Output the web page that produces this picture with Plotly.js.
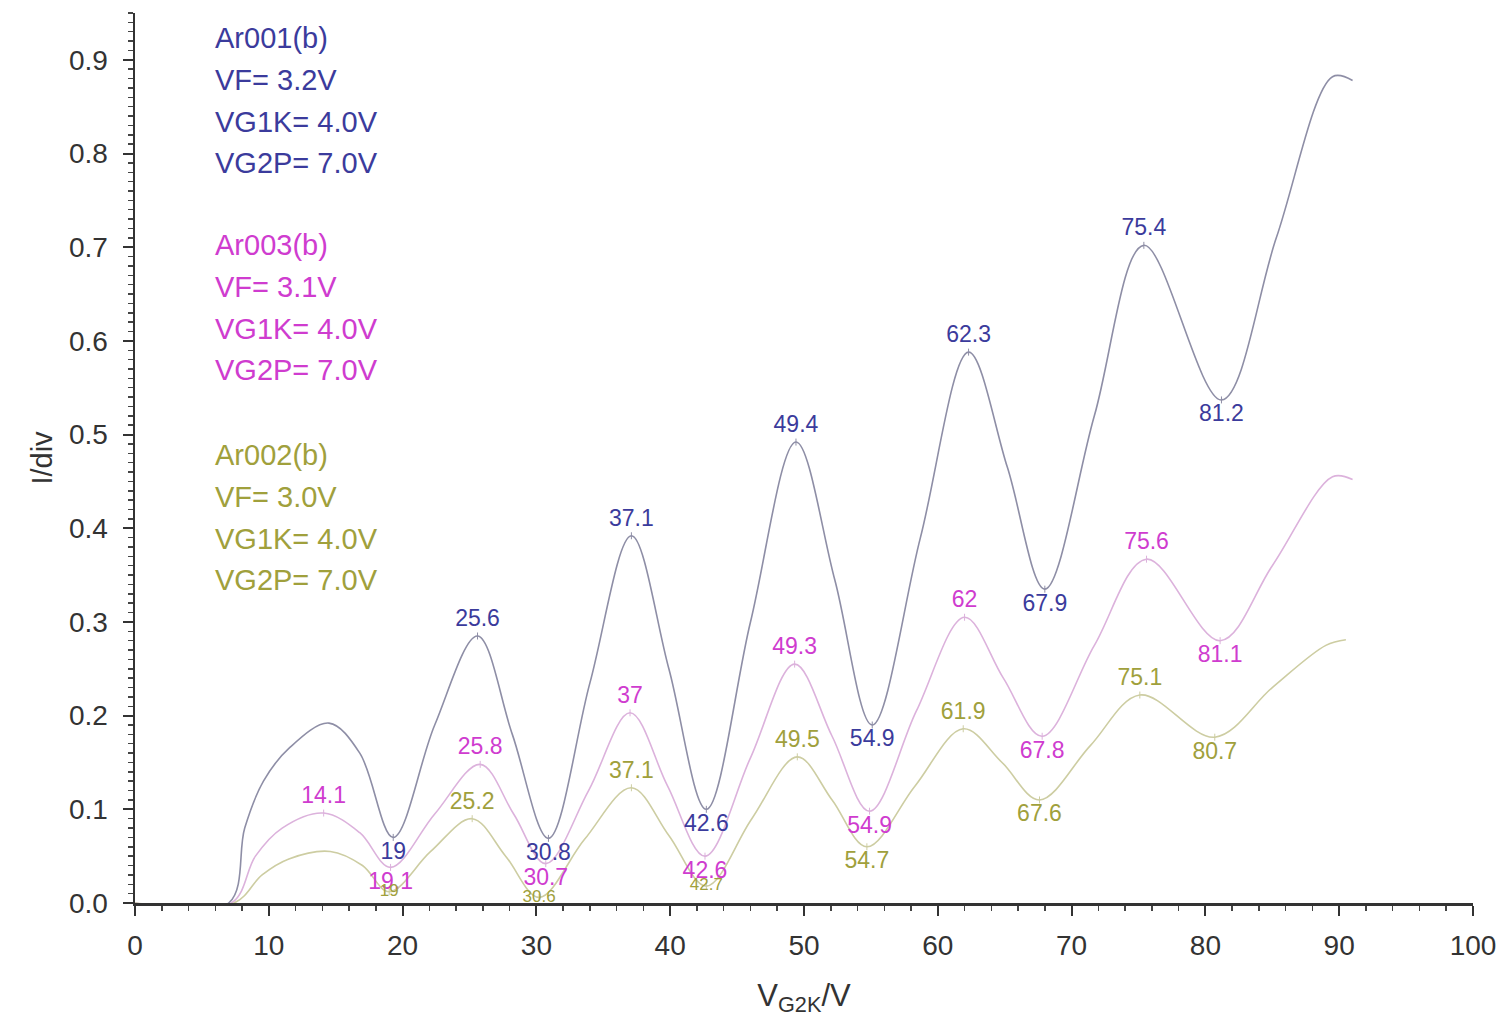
<!DOCTYPE html>
<html>
<head>
<meta charset="utf-8">
<script src="https://cdn.plot.ly/plotly-3.0.1.min.js"></script>
<style>
html,body{margin:0;padding:0;background:#fff;}
#chart{width:1504px;height:1025px;}
</style>
</head>
<body>
<div id="chart"></div>
<script>
// ---- Curve data ----
const xAr001 = [0, 7.0, 8.2, 9.6, 11.5, 14.5, 16.8, 19.3, 22.4, 25.6, 28.2, 30.9, 34.0, 37.1, 39.9, 42.7, 46.0, 49.4, 52.3, 55.1, 58.7, 62.3, 65.2, 68.0, 71.7, 75.4, 81.2, 85.3, 89.5, 91.0];
const yAr001 = [0, 0, 0.08, 0.13, 0.165, 0.192, 0.16, 0.07, 0.19, 0.285, 0.18, 0.069, 0.235, 0.392, 0.25, 0.10, 0.30, 0.492, 0.345, 0.19, 0.39, 0.588, 0.465, 0.335, 0.52, 0.702, 0.537, 0.71, 0.882, 0.878];

const xAr003 = [0, 7.2, 9.0, 11.0, 14.1, 16.8, 19.1, 22.4, 25.8, 28.3, 30.7, 33.9, 37.0, 39.8, 42.6, 46.0, 49.3, 52.1, 54.9, 58.4, 62.0, 64.9, 67.8, 71.7, 75.6, 81.1, 85.0, 89.5, 91.0];
const yAr003 = [0, 0, 0.05, 0.08, 0.096, 0.075, 0.038, 0.095, 0.148, 0.095, 0.042, 0.12, 0.203, 0.125, 0.05, 0.155, 0.255, 0.178, 0.098, 0.205, 0.305, 0.24, 0.178, 0.275, 0.367, 0.28, 0.36, 0.455, 0.452];

const xAr002 = [0, 7.4, 9.5, 11.5, 14.6, 17.0, 19.0, 22.1, 25.2, 27.7, 30.2, 33.6, 37.1, 39.9, 42.7, 46.1, 49.5, 52.1, 54.7, 58.3, 61.9, 64.8, 67.6, 71.4, 75.1, 80.7, 85.0, 89.0, 90.5];
const yAr002 = [0, 0, 0.03, 0.047, 0.055, 0.04, 0.012, 0.055, 0.09, 0.05, 0.006, 0.068, 0.123, 0.072, 0.018, 0.09, 0.156, 0.11, 0.06, 0.125, 0.186, 0.15, 0.11, 0.168, 0.222, 0.177, 0.23, 0.275, 0.281];

// ---- Labelled extremes ----
const extAr001X = [19.3, 25.6, 30.9, 37.1, 42.7, 49.4, 55.1, 62.3, 68.0, 75.4, 81.2];
const extAr001Y = [0.07, 0.285, 0.069, 0.392, 0.10, 0.492, 0.19, 0.588, 0.335, 0.702, 0.537];
const extAr001Text = ['19', '25.6', '30.8', '37.1', '42.6', '49.4', '54.9', '62.3', '67.9', '75.4', '81.2'];
const extAr001Kind = ['min', 'max', 'min', 'max', 'min', 'max', 'min', 'max', 'min', 'max', 'min'];

const extAr003X = [14.1, 19.1, 25.8, 30.7, 37.0, 42.6, 49.3, 54.9, 62.0, 67.8, 75.6, 81.1];
const extAr003Y = [0.096, 0.038, 0.148, 0.042, 0.203, 0.05, 0.255, 0.098, 0.305, 0.178, 0.367, 0.28];
const extAr003Text = ['14.1', '19.1', '25.8', '30.7', '37', '42.6', '49.3', '54.9', '62', '67.8', '75.6', '81.1'];
const extAr003Kind = ['max', 'min', 'max', 'min', 'max', 'min', 'max', 'min', 'max', 'min', 'max', 'min'];

const extAr002X = [19.0, 25.2, 30.2, 37.1, 42.7, 49.5, 54.7, 61.9, 67.6, 75.1, 80.7];
const extAr002Y = [0.012, 0.09, 0.006, 0.123, 0.018, 0.156, 0.06, 0.186, 0.11, 0.222, 0.177];
const extAr002Text = ['19', '25.2', '30.6', '37.1', '42.7', '49.5', '54.7', '61.9', '67.6', '75.1', '80.7'];
const extAr002Kind = ['low', 'max', 'low', 'max', 'low', 'max', 'min', 'max', 'min', 'max', 'min'];

// ---- Parameter text blocks ----
const infoAr001 = ['Ar001(b)', 'VF= 3.2V', 'VG1K= 4.0V', 'VG2P= 7.0V'];
const infoAr003 = ['Ar003(b)', 'VF= 3.1V', 'VG1K= 4.0V', 'VG2P= 7.0V'];
const infoAr002 = ['Ar002(b)', 'VF= 3.0V', 'VG1K= 4.0V', 'VG2P= 7.0V'];

// ---- Styles ----
const FONT = 'Liberation Sans, Arial, sans-serif';
const S = [
  {x: xAr001, y: yAr001, ex: extAr001X, ey: extAr001Y, et: extAr001Text, ek: extAr001Kind, line: '#8e8ea6', text: '#3b3b9c', info: infoAr001, name: 'Ar001(b)'},
  {x: xAr003, y: yAr003, ex: extAr003X, ey: extAr003Y, et: extAr003Text, ek: extAr003Kind, line: '#dcb2dc', text: '#cf3ccf', info: infoAr003, name: 'Ar003(b)'},
  {x: xAr002, y: yAr002, ex: extAr002X, ey: extAr002Y, et: extAr002Text, ek: extAr002Kind, line: '#cdcda2', text: '#a0a03c', info: infoAr002, name: 'Ar002(b)'}
];

const posOf = k => k === 'max' ? 'top center' : (k === 'min' ? 'bottom center' : 'middle center');

const traces = [];
S.forEach(s => {
  traces.push({
    x: s.x, y: s.y, type: 'scatter', mode: 'lines', name: s.name,
    line: {color: s.line, width: 1.6, shape: 'spline', smoothing: 1.0},
    showlegend: false, hoverinfo: 'x+y'
  });
});
S.forEach(s => {
  traces.push({
    x: s.ex, y: s.ey, type: 'scatter', mode: 'markers+text', text: s.et,
    textposition: s.ek.map(posOf),
    textfont: {family: FONT, size: s.ek.map(k => k === 'low' ? 17 : 23), color: s.text},
    marker: {symbol: 'line-ns-open', size: 5, color: s.line, line: {color: s.line, width: 1}},
    cliponaxis: false, showlegend: false, hoverinfo: 'text'
  });
});

// info text blocks (upper left)
const annotations = [];
const lineStep = 0.0445;   // vertical spacing between lines (data units)
const blockTop = [0.923, 0.702, 0.478];
S.forEach((s, bi) => {
  s.info.forEach((t, li) => {
    annotations.push({
      x: 5.8, y: blockTop[bi] - li * lineStep, xref: 'x', yref: 'y',
      text: t, showarrow: false, xanchor: 'left', yanchor: 'middle',
      font: {family: FONT, size: 29, color: s.text}
    });
  });
});

const layout = {
  width: 1504, height: 1025,
  margin: {l: 135, r: 31, t: 13, b: 122},
  paper_bgcolor: '#ffffff', plot_bgcolor: '#ffffff',
  showlegend: false,
  font: {family: FONT, color: '#333'},
  xaxis: {
    range: [0, 100], tickmode: 'linear', tick0: 0, dtick: 10,
    ticks: 'outside', ticklen: 10, tickwidth: 2, tickcolor: '#333',
    minor: {dtick: 2, ticks: 'outside', ticklen: 5, tickwidth: 1.5, tickcolor: '#444'},
    showline: true, linecolor: '#333', linewidth: 2.5, showgrid: false, zeroline: false,
    ticklabelstandoff: 6,
    tickfont: {family: FONT, size: 28, color: '#333'},
    title: {text: 'V<sub>G2K</sub>/V', font: {family: FONT, size: 31, color: '#333'}, standoff: 24}
  },
  yaxis: {
    range: [0, 0.95], tickmode: 'linear', tick0: 0, dtick: 0.1, tickformat: '.1f',
    ticks: 'outside', ticklen: 10, tickwidth: 2, tickcolor: '#333',
    minor: {dtick: 0.01, ticks: 'outside', ticklen: 5, tickwidth: 1.5, tickcolor: '#444'},
    showline: true, linecolor: '#333', linewidth: 2.5, showgrid: false, zeroline: false,
    ticklabelstandoff: 9,
    tickfont: {family: FONT, size: 28, color: '#333'},
    title: {text: 'I/div', font: {family: FONT, size: 29, color: '#333'}, standoff: 8}
  },
  annotations: annotations
};

Plotly.newPlot('chart', traces, layout, {displayModeBar: false, staticPlot: true});
</script>
</body>
</html>
